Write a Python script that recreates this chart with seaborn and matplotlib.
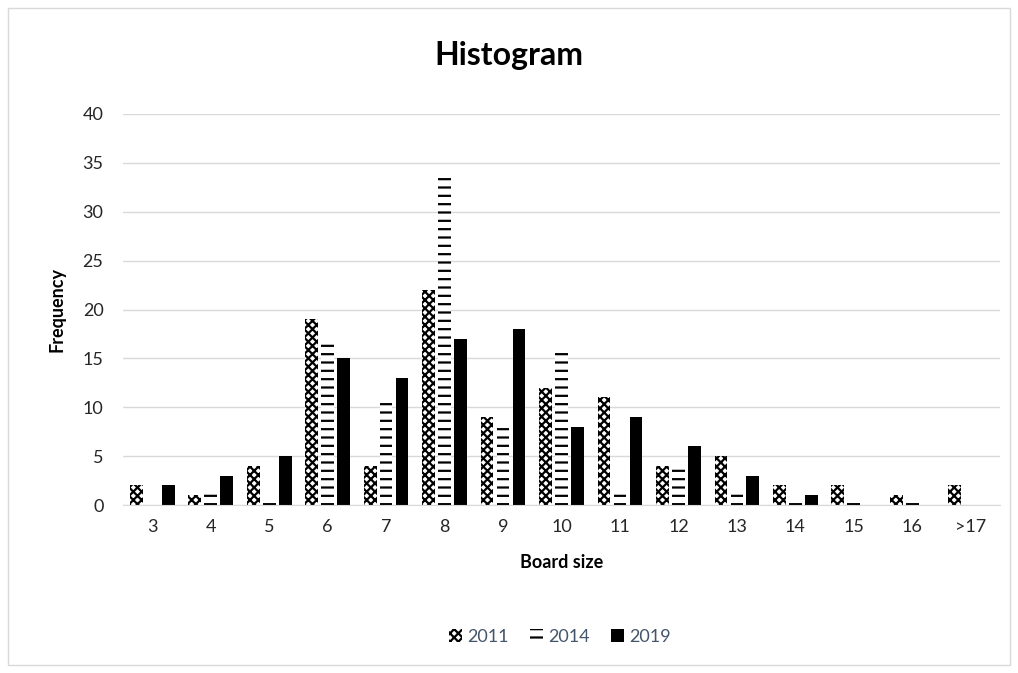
import pandas as pd
import seaborn as sns
import matplotlib.pyplot as plt
from matplotlib.patches import Rectangle, Patch

sizes = ['3', '4', '5', '6', '7', '8', '9', '10', '11', '12', '13', '14', '15', '16', '>17']
y2011 = [2, 1, 4, 19, 4, 22, 9, 12, 11, 4, 5, 2, 2, 1, 2]
y2014 = [0, 1.5, 0.5, 17, 10.5, 34, 8, 16, 1.5, 4, 1.5, 0.5, 0.5, 0.5, 0]
y2019 = [2, 3, 5, 15, 13, 17, 18, 8, 9, 6, 3, 1, 0, 0, 0]
years = ['2011', '2014', '2019']

data = pd.DataFrame({
    'Board size': sizes * 3,
    'Frequency': y2011 + y2014 + y2019,
    'Year': [y for y in years for _ in sizes],
})

sns.set_style('white')
plt.rcParams['font.family'] = ['Lato', 'DejaVu Sans']
plt.rcParams['hatch.linewidth'] = 1.6

fig = plt.figure(figsize=(10.18, 6.73), dpi=100)
ax = fig.add_axes([123 / 1018, 1 - 505 / 673, 877 / 1018, 391 / 673])

sns.barplot(data=data, x='Board size', y='Frequency', hue='Year', order=sizes,
            hue_order=years, width=0.82, gap=0.2, ax=ax, legend=False,
            palette=['white', 'white', 'black'], saturation=1)

# patterns like the Excel fills
hatches = ['xxxx', '--', '']
for cont, h in zip(ax.containers, hatches):
    for bar in cont:
        bar.set_hatch(h)
        bar.set_edgecolor('black')
        bar.set_linewidth(0)

ax.set_ylim(0, 40)
ax.set_xlim(-0.5, 14.5)
ax.set_yticks(range(0, 41, 5))
ax.yaxis.grid(True, color='#D9D9D9', linewidth=1)
ax.set_axisbelow(True)
for s in ['top', 'right', 'left']:
    ax.spines[s].set_visible(False)
ax.spines['bottom'].set_color('#D9D9D9')
ax.tick_params(axis='both', length=0, labelsize=13, colors='#262626', pad=10)
ax.tick_params(axis='y', pad=14)

ax.set_xlabel('Board size', fontsize=13, fontweight='bold', labelpad=14, color='black')
ax.set_ylabel('Frequency', fontsize=13, fontweight='bold', labelpad=12, color='black')
fig.suptitle('Histogram', fontsize=23, fontweight='bold', y=1 - 55 / 673, va='center',
             color='black')

handles = [Patch(facecolor=c, edgecolor='black', hatch=h, linewidth=0)
           for c, h in zip(['white', 'white', 'black'], hatches)]
leg = fig.legend(handles, years, loc='center', bbox_to_anchor=(560 / 1018, 1 - 637 / 673),
                 ncol=3, frameon=False, fontsize=13, handlelength=0.7, handleheight=0.7,
                 handletextpad=0.3, columnspacing=1.2)
for t in leg.get_texts():
    t.set_color('#44546A')

fig.patches.append(Rectangle((8 / 1018, 8 / 673), 1002 / 1018, 657 / 673,
                             transform=fig.transFigure, fill=False,
                             edgecolor='#D9D9D9', linewidth=1))

fig.savefig('out.png', dpi=100)
